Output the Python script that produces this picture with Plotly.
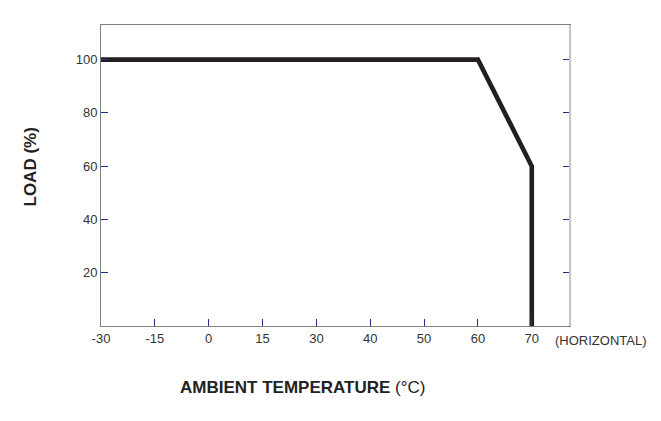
import plotly.graph_objects as go

x_tick_labels = ["-30", "-15", "0", "15", "30", "40", "50", "60", "70"]
curve_temp = ["-30", "60", "70", "70"]
curve_load = [100, 100, 60, 0]
y_ticks = [20, 40, 60, 80, 100]

FONT = "Liberation Sans, Arial, sans-serif"
TICKC = "#2b2b8c"

fig = go.Figure()
fig.add_trace(go.Scatter(x=curve_temp, y=curve_load, mode="lines",
                         line=dict(color="#231f20", width=4.6),
                         hoverinfo="skip", showlegend=False))

fig.update_xaxes(type="category", categoryorder="array", categoryarray=x_tick_labels,
                 range=[0, 8.71], showgrid=False, zeroline=False,
                 showline=True, linecolor="#808080", linewidth=1, mirror=True,
                 ticks="inside", ticklen=7, tickcolor=TICKC, tickwidth=1,
                 tickfont=dict(family=FONT, size=13, color="#333333"))
fig.update_yaxes(range=[0, 113], tickvals=y_ticks, showgrid=False, zeroline=False,
                 showline=True, linecolor="#808080", linewidth=1, mirror="allticks",
                 ticks="inside", ticklen=7, tickcolor=TICKC, tickwidth=1,
                 tickfont=dict(family=FONT, size=13, color="#333333"))

fig.add_shape(type="line", xref="paper", yref="paper", x0=1, x1=1, y0=0, y1=1,
              line=dict(color="#c4c4c4", width=2))

fig.add_annotation(text="(HORIZONTAL)", xref="paper", yref="paper", x=1.0, y=0,
                   xanchor="left", yanchor="middle", xshift=-17, yshift=-14, showarrow=False,
                   font=dict(family=FONT, size=13, color="#333333"))
fig.add_annotation(text="<b>AMBIENT TEMPERATURE </b>(°C)", xref="paper", yref="paper",
                   x=(302 - 101) / 469, y=0, xanchor="center", yanchor="middle",
                   yshift=-61, showarrow=False,
                   font=dict(family=FONT, size=17, color="#222222"))
fig.add_annotation(text="<b>LOAD (%)</b>", xref="paper", yref="paper",
                   x=0, y=(326 - 167.5) / 301, xanchor="center", yanchor="middle",
                   xshift=-71, textangle=-90, showarrow=False,
                   font=dict(family=FONT, size=17, color="#222222"))

# page body adds an 8px margin, so the figure is 8px smaller and margins offset by 8
fig.update_layout(width=653, height=413, margin=dict(l=93, r=91, t=17, b=95),
                  plot_bgcolor="white", paper_bgcolor="white")
fig.write_html("out.html")
